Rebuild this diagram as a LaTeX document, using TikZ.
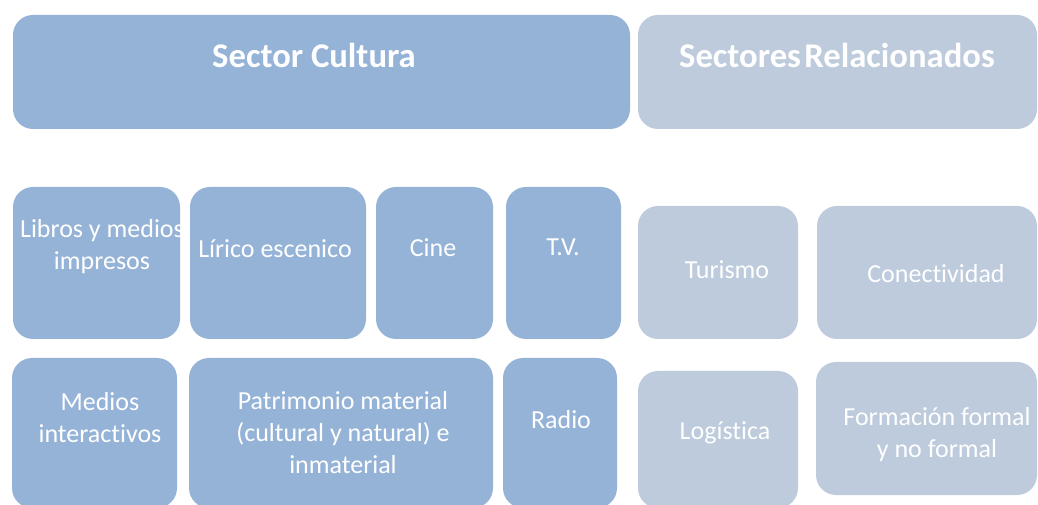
\documentclass[tikz,border=0pt]{standalone}
\usepackage{fontspec}
\setmainfont[Ligatures={NoCommon,NoRare,NoDiscretionary}]{Carlito}
\tikzset{
  x=0.75pt, y=-0.75pt,
  boxbase/.style={anchor=north west, inner sep=0pt, outer sep=0pt, rounded corners=15pt, draw=none},
  darkbox/.style={boxbase, fill=darkblue},
  lightbox/.style={boxbase, fill=lightblue},
  txt/.style={text=white, align=center, inner sep=0pt, font=\fontsize{19.5}{24}\selectfont},
  ttl/.style={text=white, align=center, inner sep=0pt, font=\fontsize{26}{30}\selectfont\bfseries},
}
\definecolor{darkblue}{RGB}{149,179,215}
\definecolor{lightblue}{RGB}{189,203,220}
\newcommand\mybox[6]{\node[#6, minimum width={(#4-#2)*0.75pt}, minimum height={(#5-#3)*0.75pt}] (#1) at (#2,#3) {};}
\begin{document}
\begin{tikzpicture}
\useasboundingbox (0,0) rectangle (1038,505);
\fill[white] (0,0) rectangle (1038,505);
\begin{scope}
\clip (0,0) rectangle (1038,505);
\mybox{cultura}{13}{15}{630}{129}{darkbox}
\mybox{relac}{638}{15}{1037}{129}{lightbox}
\mybox{libros}{13}{187}{180}{339}{darkbox}
\mybox{lirico}{190}{187}{366}{339}{darkbox}
\mybox{cine}{376}{187}{493}{339}{darkbox}
\mybox{tv}{506}{187}{621}{339}{darkbox}
\mybox{turismo}{638}{206}{798}{339}{lightbox}
\mybox{conect}{817}{206}{1037}{339}{lightbox}
\mybox{medios}{12}{358}{177}{508}{darkbox}
\mybox{patri}{189}{358}{493}{508}{darkbox}
\mybox{radio}{503}{358}{617}{508}{darkbox}
\mybox{logis}{638}{371}{798}{508}{lightbox}
\mybox{formac}{816}{362}{1037}{495}{lightbox}
\end{scope}
\node[ttl] (tcultura) at (314,55) {Sector Cultura};
\node[ttl] (trelac) at (837,55) {Sectores\hspace{-0.13em} Relacionados};
\node[txt] (tlibros) at (102,247) {Libros y medios\\impresos};
\node[txt] (tlirico) at (275,249) {Lírico escenico};
\node[txt] (tcine) at (433,248) {Cine};
\node[txt] (ttv) at (563,247) {T.V.};
\node[txt] (tturismo) at (727,270) {Turismo};
\node[txt] (tconect) at (936,274) {Conectividad};
\node[txt] (tmedios) at (100,418) {Medios\\interactivos};
\node[txt] (tpatri) at (343,433) {Patrimonio material\\(cultural y natural) e\\inmaterial};
\node[txt] (tradio) at (561,420) {Radio};
\node[txt] (tlogis) at (725,433) {Logística};
\node[txt] (tformac) at (937,435) {Formación formal\\y no formal};
\end{tikzpicture}
\end{document}
